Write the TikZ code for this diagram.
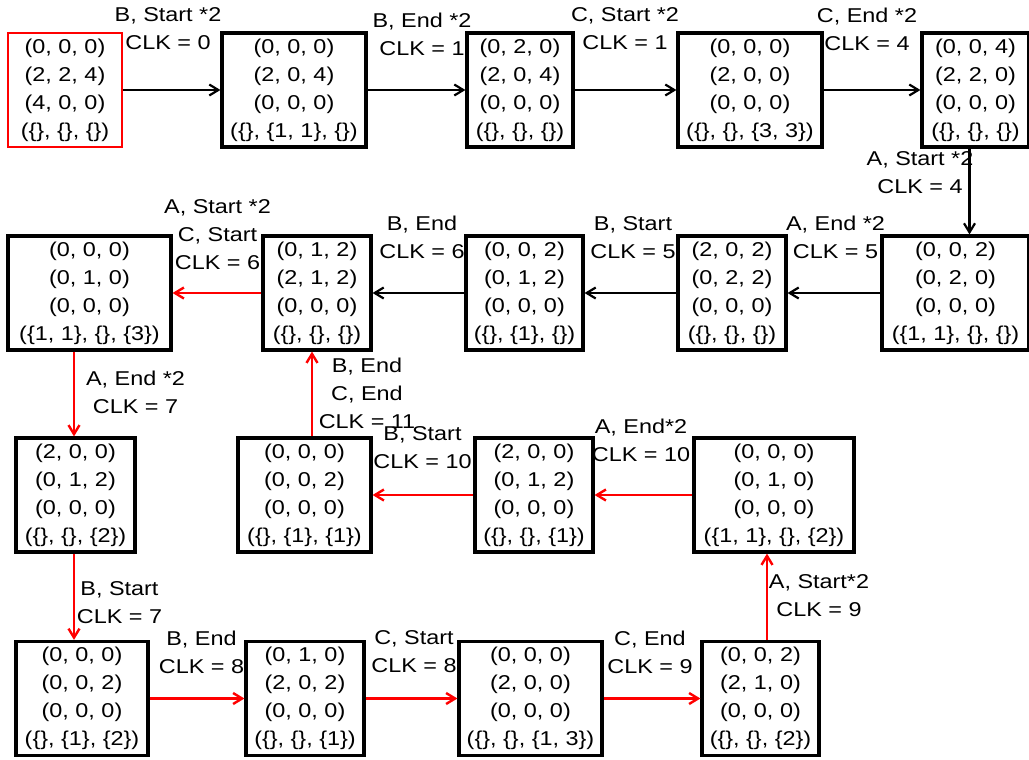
\documentclass[tikz,border=0pt]{standalone}
\usepackage{fontspec}
\setmainfont{Liberation Sans}[FakeStretch=1.17]
\usetikzlibrary{arrows.meta}
\tikzset{
  state/.style={draw, line width=3.2pt, minimum height=114pt, inner sep=0pt, align=center, font=\fontsize{20}{28}\selectfont},
  initstate/.style={state, draw=red, line width=2.8pt},
  lbl/.style={inner sep=0pt, align=center, font=\fontsize{20}{28}\selectfont},
  arr/.style={line width=2.2pt, -{Straight Barb[length=9pt,width=11pt]}},
  rarr/.style={arr, draw=red, line width=2.4pt},
}
\begin{document}
\begin{tikzpicture}[x=1pt,y=-1pt]
\useasboundingbox (0,0) rectangle (1029,760);
\node[initstate, minimum width=114pt] (s0) at (65,90) {(0, 0, 0)\\(2, 2, 4)\\(4, 0, 0)\\(\{\}, \{\}, \{\})};
\node[state, minimum width=144pt] (s1) at (294,90) {(0, 0, 0)\\(2, 0, 4)\\(0, 0, 0)\\(\{\}, \{1, 1\}, \{\})};
\node[state, minimum width=106pt] (s2) at (520,90) {(0, 2, 0)\\(2, 0, 4)\\(0, 0, 0)\\(\{\}, \{\}, \{\})};
\node[state, minimum width=144pt] (s3) at (750,90) {(0, 0, 0)\\(2, 0, 0)\\(0, 0, 0)\\(\{\}, \{\}, \{3, 3\})};
\node[state, minimum width=107pt] (s4) at (975.5,90) {(0, 0, 4)\\(2, 2, 0)\\(0, 0, 0)\\(\{\}, \{\}, \{\})};
\node[state, minimum width=163pt] (t0) at (89.5,293) {(0, 0, 0)\\(0, 1, 0)\\(0, 0, 0)\\(\{1, 1\}, \{\}, \{3\})};
\node[state, minimum width=108pt] (t1) at (317,293) {(0, 1, 2)\\(2, 1, 2)\\(0, 0, 0)\\(\{\}, \{\}, \{\})};
\node[state, minimum width=117pt] (t2) at (524.5,293) {(0, 0, 2)\\(0, 1, 2)\\(0, 0, 0)\\(\{\}, \{1\}, \{\})};
\node[state, minimum width=108pt] (t3) at (732,293) {(2, 0, 2)\\(0, 2, 2)\\(0, 0, 0)\\(\{\}, \{\}, \{\})};
\node[state, minimum width=147pt] (t4) at (955.5,293) {(0, 0, 2)\\(0, 2, 0)\\(0, 0, 0)\\(\{1, 1\}, \{\}, \{\})};
\node[state, minimum width=119pt] (u0) at (75.5,495) {(2, 0, 0)\\(0, 1, 2)\\(0, 0, 0)\\(\{\}, \{\}, \{2\})};
\node[state, minimum width=133pt] (u1) at (304.5,495) {(0, 0, 0)\\(0, 0, 2)\\(0, 0, 0)\\(\{\}, \{1\}, \{1\})};
\node[state, minimum width=118pt] (u2) at (534,495) {(2, 0, 0)\\(0, 1, 2)\\(0, 0, 0)\\(\{\}, \{\}, \{1\})};
\node[state, minimum width=160pt] (u3) at (774,495) {(0, 0, 0)\\(0, 1, 0)\\(0, 0, 0)\\(\{1, 1\}, \{\}, \{2\})};
\node[state, minimum width=132pt] (v0) at (82,698.5) {(0, 0, 0)\\(0, 0, 2)\\(0, 0, 0)\\(\{\}, \{1\}, \{2\})};
\node[state, minimum width=118pt] (v1) at (305,698.5) {(0, 1, 0)\\(2, 0, 2)\\(0, 0, 0)\\(\{\}, \{\}, \{1\})};
\node[state, minimum width=143pt] (v2) at (530.5,698.5) {(0, 0, 0)\\(2, 0, 0)\\(0, 0, 0)\\(\{\}, \{\}, \{1, 3\})};
\node[state, minimum width=117pt] (v3) at (760.5,698.5) {(0, 0, 2)\\(2, 1, 0)\\(0, 0, 0)\\(\{\}, \{\}, \{2\})};
\draw[arr] (s0) -- (s1);
\draw[arr] (s1) -- (s2);
\draw[arr] (s2) -- (s3);
\draw[arr] (s3) -- (s4);
\draw[arr] ([xshift=-6pt]s4.south) -- ([xshift=-6pt]s4.south |- t4.north);
\draw[arr] (t4) -- (t3);
\draw[arr] (t3) -- (t2);
\draw[arr] (t2) -- (t1);
\draw[rarr] (t1) -- (t0);
\draw[rarr] ([xshift=-15.5pt]t0.south) -- ([xshift=-15.5pt]t0.south |- u0.north);
\draw[rarr] ([xshift=-1.5pt]u0.south) -- ([xshift=-1.5pt]u0.south |- v0.north);
\draw[rarr] (v0) -- (v1);
\draw[rarr] (v1) -- (v2);
\draw[rarr] (v2) -- (v3);
\draw[rarr] ([xshift=6.5pt]v3.north) -- ([xshift=6.5pt]v3.north |- u3.south);
\draw[rarr] (u3) -- (u2);
\draw[rarr] (u2) -- (u1);
\draw[rarr] ([xshift=7.5pt]u1.north) -- ([xshift=7.5pt]u1.north |- t1.south);
\node[lbl] (l01) at (168,29) {B, Start *2\\CLK = 0};
\node[lbl] (l12) at (422,34) {B, End *2\\CLK = 1};
\node[lbl] (l23) at (625,29) {C, Start *2\\CLK = 1};
\node[lbl] (l34) at (867,29) {C, End *2\\CLK = 4};
\node[lbl] (l4) at (920,172.5) {A, Start *2\\CLK = 4};
\node[lbl] (lt43) at (835.5,237.5) {A, End *2\\CLK = 5};
\node[lbl] (lt32) at (633,237.5) {B, Start\\CLK = 5};
\node[lbl] (lt21) at (422,237.5) {B, End\\CLK = 6};
\node[lbl] (lt10) at (217.5,234.5) {A, Start *2\\C, Start\\CLK = 6};
\node[lbl] (lt0) at (135.5,392) {A, End *2\\CLK = 7};
\node[lbl] (lu0) at (119.5,602.5) {B, Start\\CLK = 7};
\node[lbl] (lv01) at (201.5,652) {B, End\\CLK = 8};
\node[lbl] (lv12) at (414,652) {C, Start\\CLK = 8};
\node[lbl] (lv23) at (650,652) {C, End\\CLK = 9};
\node[lbl] (lv3) at (819,596) {A, Start*2\\CLK = 9};
\node[lbl] (lu32) at (641,440) {A, End*2\\CLK = 10};
\node[lbl] (lu21) at (422.5,448) {B, Start\\CLK = 10};
\node[lbl] (lu1) at (367,393.5) {B, End\\C, End\\CLK = 11};
\end{tikzpicture}
\end{document}
